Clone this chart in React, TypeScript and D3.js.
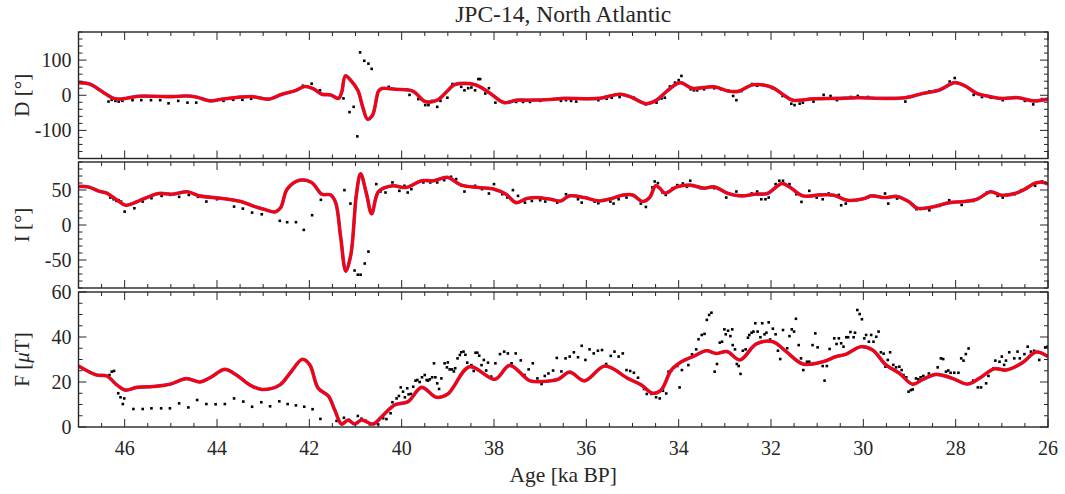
import React from 'react';
import * as d3 from 'd3';

// ---------- data (age in ka BP, value) ----------
const dFit: [number, number][] = [
  [47.0,36],[46.76,32],[46.46,8],[46.24,-9],[46.13,-11],[45.98,-9],[45.72,-3],[45.34,-3],[44.97,-4],[44.67,-2],[44.45,-5],[44.15,-16],[43.93,-12],[43.48,-5],[43.22,-4],[42.89,-11],[42.59,3],[42.29,14],[42.1,25],[41.92,19],[41.73,3],[41.54,1],[41.37,-9],[41.3,8],[41.22,55],[41.1,42],[40.95,14],[40.84,-35],[40.74,-68],[40.63,-56],[40.5,12],[40.43,19],[40.13,17],[39.76,12],[39.49,-18],[39.23,-14],[39.01,12],[38.86,30],[38.41,30],[38.11,8],[37.78,-21],[37.52,-14],[37.22,-14],[36.78,-12],[36.48,-9],[35.74,-9],[35.26,3],[35.0,-7],[34.71,-24],[34.48,-14],[34.26,11],[33.97,36],[33.71,20],[33.23,24],[32.93,12],[32.71,11],[32.38,30],[31.97,22],[31.75,3],[31.53,-14],[31.08,-10],[30.57,-9],[30.12,-7],[29.53,-9],[29.09,-7],[28.72,5],[28.35,15],[28.02,36],[27.8,27],[27.54,5],[27.32,-2],[27.02,-9],[26.65,-7],[26.32,-16],[26.0,-11]
];
const dObs: [number, number][] = [
  [46.35,-18],[46.28,-13],[46.2,-16],[46.13,-18],[46.05,-16],[45.83,-14],[45.64,-14],[45.43,-14],[45.23,-14],[45.05,-23],[44.84,-16],[44.64,-21],[44.45,-21],[43.86,-16],[43.65,-13],[43.45,-13],[43.26,-10],[42.14,27],[41.95,33],[41.77,14],[41.26,-9],[41.13,-48],[41.04,-33],[40.96,-117],[40.9,122],[40.81,98],[40.72,90],[40.65,75],[40.28,24],[39.9,17],[39.83,1],[39.64,-11],[39.49,-28],[39.42,-28],[39.34,-16],[39.23,-33],[39.16,-16],[39.01,-7],[38.9,32],[38.71,24],[38.64,14],[38.56,20],[38.49,22],[38.41,14],[38.34,46],[38.3,46],[38.19,5],[38.11,20],[37.97,-21],[37.67,-19],[37.52,-19],[37.37,-19],[37.22,-19],[37.0,-16],[36.55,-16],[36.44,-14],[36.33,-16],[36.22,-18],[35.74,-14],[35.56,-10],[35.45,-7],[35.28,-5],[34.97,-7],[34.71,-26],[34.6,-21],[34.48,-21],[34.37,-9],[34.3,-7],[34.19,25],[34.08,36],[34.0,43],[33.94,55],[33.74,17],[33.67,14],[33.6,14],[33.45,17],[33.23,20],[33.08,17],[32.93,14],[32.82,-2],[32.75,-14],[32.64,12],[32.41,32],[32.3,27],[31.97,20],[31.75,-2],[31.56,-24],[31.49,-28],[31.38,-24],[31.31,-21],[31.08,-18],[30.86,1],[30.71,-2],[30.57,-14],[30.27,-5],[30.12,-2],[29.9,-5],[29.68,-9],[29.09,-18],[28.57,11],[28.28,20],[28.13,39],[28.02,49],[27.61,1],[27.43,-5],[27.24,-7],[26.98,-14],[26.5,-16],[26.32,-26],[26.13,-11]
];

const iFit: [number, number][] = [
  [47.0,55],[46.8,54.5],[46.54,48],[46.39,45.5],[46.16,35.4],[45.98,28.2],[45.87,29.7],[45.57,37.8],[45.27,45],[44.97,44],[44.64,47.4],[44.38,41.6],[43.93,38.3],[43.48,33.5],[43.18,26.3],[42.96,22],[42.74,18.7],[42.62,24.9],[42.48,51.2],[42.21,64],[41.95,60.8],[41.73,44],[41.54,43],[41.43,32],[41.32,-18],[41.21,-66],[41.1,-42],[40.98,44],[40.89,73],[40.76,44],[40.65,16],[40.5,47.8],[40.2,56],[39.9,53.6],[39.57,63.2],[39.31,63.2],[39.01,68],[38.71,57],[38.34,53.6],[38.0,51.2],[37.74,44],[37.52,32],[37.29,37.8],[37.07,39.2],[36.78,36.8],[36.55,34.4],[36.37,41.6],[36.04,39.2],[35.74,34.4],[35.45,37.8],[35.22,42.6],[35.0,43],[34.78,33.5],[34.63,39.2],[34.5,56],[34.41,52.6],[34.3,45.5],[34.04,54.5],[33.75,57],[33.45,52.6],[33.23,54.5],[32.93,45],[32.64,41.6],[32.34,44],[32.08,45],[31.9,53.6],[31.76,59.3],[31.6,54.5],[31.31,41.6],[30.94,43],[30.64,42.6],[30.35,35.4],[29.98,37.8],[29.83,41.6],[29.53,39.2],[29.27,40.7],[29.02,33.5],[28.83,23.9],[28.5,25.8],[28.13,32],[27.83,33.5],[27.54,36.8],[27.24,47.4],[27.02,42.6],[26.72,45],[26.5,51.2],[26.28,59.8],[26.1,60.8],[26.0,58.4]
];
const iObs: [number, number][] = [
  [46.31,39.2],[46.24,36.8],[46.18,34.4],[46.13,35.4],[46.08,33.5],[46.0,19.1],[45.79,23.9],[45.61,33.5],[45.42,38.3],[45.2,41.6],[45.01,43],[44.82,40.2],[44.61,43],[44.41,40.2],[44.23,33.5],[44.0,36.8],[43.63,26.3],[43.44,23.4],[43.24,17.7],[43.03,15.3],[42.64,6],[42.48,4],[42.29,4],[42.12,-7],[41.94,14],[41.75,36],[41.24,49.8],[41.11,30.6],[41.02,-65],[40.95,-71],[40.89,-71],[40.8,-55],[40.72,-38],[40.55,58.4],[40.46,47.8],[40.35,46.4],[40.2,60.8],[40.05,48.8],[39.94,56],[39.87,46.4],[39.79,51.2],[39.53,60.8],[39.38,60.8],[39.23,60.8],[39.08,64.1],[38.93,68.9],[38.82,65.6],[38.71,57],[38.64,47.8],[38.41,56],[38.26,51.2],[38.11,45],[38.0,58.4],[37.82,44],[37.71,39.2],[37.59,49.8],[37.48,41.6],[37.33,32],[37.18,34.4],[37.0,35.4],[36.89,33.5],[36.63,32],[36.44,44],[36.18,36.8],[36.1,32],[35.82,33.5],[35.74,31.1],[35.48,33.5],[35.41,30.6],[35.3,36.8],[35.13,39.2],[34.97,42.6],[34.82,30.6],[34.71,25.8],[34.57,53.6],[34.52,62.2],[34.45,59.8],[34.35,46.4],[34.28,43],[34.13,52.6],[34.03,57],[33.91,59.3],[33.82,54.5],[33.75,63.2],[33.52,52.6],[33.23,52.6],[32.97,39.2],[32.75,47.8],[32.7,41.6],[32.42,45],[32.3,47.8],[32.21,36.8],[32.12,36.8],[32.05,39.2],[31.9,58.4],[31.82,63.2],[31.74,63.2],[31.6,58.4],[31.45,44],[31.34,33],[31.17,48.8],[31.01,39.2],[30.88,36.8],[30.75,45],[30.53,43],[30.48,28.2],[30.38,30.6],[30.2,35.4],[29.9,39.2],[29.79,41.6],[29.53,45],[29.46,30.6],[29.27,37.8],[28.94,29.7],[28.85,22.5],[28.57,21],[28.35,27.3],[28.14,35.4],[27.87,28.7],[27.61,34.4],[27.32,46.4],[27.09,41.6],[26.98,39.2],[26.72,44],[26.58,49.8],[26.28,56],[26.13,62.2]
];

const fFit: [number, number][] = [
  [47.0,27.1],[46.61,23.1],[46.39,22.7],[46.17,18.7],[45.99,16.4],[45.74,17.6],[45.38,18],[45.02,19],[44.66,21.5],[44.37,20],[44.15,21.9],[43.83,25.6],[43.58,23.1],[43.29,18.7],[43.03,16.7],[42.64,18.7],[42.42,23.9],[42.15,30.1],[41.99,27.6],[41.81,17.3],[41.59,13.8],[41.45,7.6],[41.3,1.3],[41.16,3.1],[41.02,1.3],[40.87,3.1],[40.62,1.3],[40.44,4.4],[40.15,9.8],[39.86,11.3],[39.57,17.6],[39.25,13.2],[39.0,14.7],[38.53,26.8],[37.98,21.2],[37.66,27.4],[37.23,20.6],[36.97,20.2],[36.61,21.2],[36.36,24.4],[36.04,20.5],[35.6,27.1],[35.1,21.6],[34.81,18.7],[34.56,15],[34.38,16.4],[34.16,25.3],[33.94,29],[33.66,31.6],[33.4,33.9],[33.19,32.7],[32.95,33.5],[32.67,29.8],[32.32,36.9],[31.96,37.9],[31.67,33.5],[31.31,28],[30.88,29],[30.59,31.3],[30.37,32.4],[30.05,35.7],[29.8,34.2],[29.51,27.6],[29.22,23.9],[28.93,19],[28.71,21.2],[28.42,23.4],[28.07,21.6],[27.74,19.1],[27.49,21.6],[27.16,25.9],[26.91,25.3],[26.55,28.6],[26.26,33.3],[26.0,31.3]
];
const fObs: [number, number][] = [
  [46.33,23.1],[46.28,24.6],[46.23,24.9],[46.14,15],[46.09,13.2],[46.04,10.2],[46.01,12.7],[45.81,8],[45.61,8],[45.42,8.3],[45.21,8.3],[45.02,8.3],[44.82,10.5],[44.62,8.7],[44.43,12],[44.23,10.2],[44.03,10.1],[43.83,10.2],[43.63,12.7],[43.43,11.3],[43.24,9],[43.04,11],[42.85,9.2],[42.65,11.4],[42.47,10.2],[42.29,9.6],[42.11,9],[41.93,7.9],[41.76,3.6],[41.41,2.7],[41.25,4.1],[41.14,3.1],[40.95,4.9],[40.87,3.7],[40.78,2.8],[40.69,1.2],[40.51,1.2],[40.4,3.9],[40.33,3.5],[40.24,6.1],[40.2,11],[40.11,12.7],[40.06,13.8],[40.02,17.6],[39.97,15.7],[39.93,13.2],[39.88,17.2],[39.85,14.5],[39.8,14.7],[39.75,17.9],[39.7,20.6],[39.66,20.9],[39.61,20],[39.56,22.1],[39.5,23.1],[39.46,20.9],[39.43,20.6],[39.39,21.2],[39.34,22.1],[39.3,28.3],[39.27,22.1],[39.23,19.4],[39.19,16.9],[39.14,21.6],[39.07,28.3],[39.02,26.5],[39.0,28.7],[38.96,25.6],[38.91,25.6],[38.87,24.7],[38.84,26.1],[38.79,30.5],[38.74,32],[38.71,33.2],[38.66,33.5],[38.62,32.1],[38.58,28.6],[38.49,27.5],[38.44,24.9],[38.4,33],[38.36,33],[38.32,31.7],[38.27,27.5],[38.22,29.8],[38.17,25.1],[38.13,28.6],[38.06,22.4],[37.97,28.3],[37.87,32.4],[37.78,33.5],[37.7,32.7],[37.62,28.3],[37.53,32.7],[37.42,29.6],[37.34,23.1],[37.25,25.6],[37.16,28.3],[37.06,21.6],[36.97,19.1],[36.9,22.7],[36.82,23.8],[36.72,25.1],[36.64,30.7],[36.54,24.7],[36.45,30.5],[36.36,31.3],[36.27,33.2],[36.18,31],[36.1,36.1],[36.02,29.8],[35.93,34.5],[35.84,32.7],[35.75,33.9],[35.66,34.2],[35.57,28],[35.47,31.6],[35.39,33.5],[35.3,31.3],[35.21,32.7],[35.13,25.3],[35.05,24.9],[34.97,24.1],[34.88,21.9],[34.82,18.9],[34.75,16.9],[34.69,14.7],[34.59,14.7],[34.49,13.2],[34.41,12.7],[34.34,16.1],[34.27,14.9],[34.22,24.6],[34.16,25.1],[34.1,26.5],[34.03,27.1],[33.98,17.6],[33.93,25.3],[33.84,30.1],[33.79,27.5],[33.71,32.3],[33.62,34.5],[33.57,39],[33.5,40.9],[33.44,41.4],[33.39,47.6],[33.34,49.8],[33.29,50.8],[33.22,24.6],[33.17,28],[33.11,37.5],[33.06,37.9],[33.01,43.4],[32.98,41.2],[32.93,42.8],[32.88,40.4],[32.84,43.4],[32.83,36.4],[32.78,34.5],[32.74,28],[32.7,27.1],[32.66,23.6],[32.61,33.9],[32.55,34.5],[32.5,39.7],[32.47,40.9],[32.42,41.9],[32.38,42.4],[32.34,46.1],[32.29,42.4],[32.23,39.9],[32.19,46.1],[32.14,41.2],[32.1,41.9],[32.05,46.5],[32.02,38.9],[31.96,43.7],[31.9,41.2],[31.85,33.9],[31.8,30.2],[31.74,43.1],[31.65,35],[31.6,40.4],[31.55,43.4],[31.5,42.4],[31.46,48.1],[31.4,36.4],[31.35,30.5],[31.3,25.3],[31.22,29],[31.17,29],[31.1,36.4],[31.04,41.6],[30.99,35.4],[30.88,27.1],[30.84,20.6],[30.79,27.1],[30.73,34.7],[30.63,39.4],[30.58,36.9],[30.53,39.4],[30.48,37.2],[30.43,35.7],[30.37,39.9],[30.33,39.9],[30.28,42.2],[30.21,39.9],[30.18,41.9],[30.13,52],[30.08,50.2],[30.03,47.9],[29.98,39.4],[29.94,40.9],[29.88,37.9],[29.83,40.9],[29.78,37.9],[29.72,40.1],[29.67,42.4],[29.62,33.2],[29.56,32.6],[29.52,26.8],[29.47,29.8],[29.42,33.2],[29.35,27.6],[29.29,26.5],[29.22,26.8],[29.17,25.3],[29.13,23.1],[29.07,22.1],[29.02,15.7],[28.97,16.4],[28.93,16.7],[28.86,21.6],[28.81,21.2],[28.76,22.1],[28.7,22.7],[28.58,23.8],[28.39,26.5],[28.32,30.5],[28.27,30.2],[28.21,24.6],[28.16,25.1],[28.11,24.1],[28.03,24.1],[27.94,24.1],[27.88,30.5],[27.83,29.5],[27.78,32.4],[27.72,34.9],[27.62,20.6],[27.52,17.6],[27.45,17.6],[27.34,19.4],[27.29,22.7],[27.18,26.1],[27.14,29.5],[27.05,29],[27.0,31.3],[26.95,27.6],[26.91,29.5],[26.84,33.2],[26.73,30.5],[26.66,33.5],[26.61,30.5],[26.51,32.4],[26.44,35.7],[26.37,33.5],[26.3,33.9],[26.19,29.8],[26.06,35.4],[26.01,35.7]
];

// ---------- axes definitions ----------
const ageDomain: [number, number] = [47, 26];
const ageMajorTicks = [46, 44, 42, 40, 38, 36, 34, 32, 30, 28, 26];
const ageMinorStep = 0.5;
const dDomain: [number, number] = [-180, 180];
const dMajorTicks = [-100, 0, 100];
const dMinorStep = 20;
const iDomain: [number, number] = [-90, 90];
const iMajorTicks = [-50, 0, 50];
const iMinorStep = 10;
const fDomain: [number, number] = [0, 60];
const fMajorTicks = [0, 20, 40, 60];
const fMinorStep = 5;

const titleText = 'JPC-14, North Atlantic';
const xLabelText = 'Age [ka BP]';

const FONT = "'Liberation Serif', 'Times New Roman', serif";
const AXIS = '#262626';
const LEFT = 78.5;
const RIGHT = 1048;

function range(a: number, b: number, s: number) {
  const out: number[] = [];
  const lo = Math.min(a, b), hi = Math.max(a, b);
  for (let v = Math.ceil(lo / s) * s; v <= hi + 1e-9; v += s) out.push(+v.toFixed(6));
  return out;
}

type PanelProps = {
  id: string;
  top: number;
  bottom: number;
  domain: [number, number];
  majors: number[];
  minorStep: number;
  fit: [number, number][];
  obs: [number, number][];
  label: React.ReactNode;
  x: d3.ScaleLinear<number, number>;
};

const textStyle = (size: number): React.CSSProperties => ({ fontFamily: FONT, fontSize: size, fill: AXIS });

function Panel({ id, top, bottom, domain, majors, minorStep, fit, obs, label, x }: PanelProps) {
  const y = d3.scaleLinear().domain(domain).range([bottom, top]);
  const line = d3.line<[number, number]>()
    .x(d => x(d[0]))
    .y(d => y(d[1]))
    .curve(d3.curveCatmullRom.alpha(0.5));
  const path = line(fit) || '';
  const yMinors = range(domain[0], domain[1], minorStep).filter(v => !majors.includes(v));
  const xMinors = range(ageDomain[1], ageDomain[0], ageMinorStep).filter(v => !ageMajorTicks.includes(v));
  const majL = 8, minL = 4;
  const cy = (top + bottom) / 2;
  return (
    <g>
      <defs>
        <clipPath id={`clip-${id}`}>
          <rect x={LEFT} y={top} width={RIGHT - LEFT} height={bottom - top} />
        </clipPath>
      </defs>
      <g clipPath={`url(#clip-${id})`}>
        {obs.map((d, i) => (
          <rect key={i} x={x(d[0]) - 1.3} y={y(d[1]) - 1.3} width={2.6} height={2.6} fill="#000" />
        ))}
        <path d={path} fill="none" stroke="#7a3cb0" strokeWidth={3.6} strokeLinejoin="round" />
        <path d={path} fill="none" stroke="#ff0000" strokeWidth={2.8} strokeLinejoin="round" />
      </g>
      <g stroke={AXIS} strokeWidth={1}>
        {ageMajorTicks.map(v => (
          <g key={'xm' + v}>
            <line x1={x(v)} x2={x(v)} y1={bottom} y2={bottom - majL} />
            <line x1={x(v)} x2={x(v)} y1={top} y2={top + majL} />
          </g>
        ))}
        {xMinors.map(v => (
          <g key={'xn' + v}>
            <line x1={x(v)} x2={x(v)} y1={bottom} y2={bottom - minL} />
            <line x1={x(v)} x2={x(v)} y1={top} y2={top + minL} />
          </g>
        ))}
        {majors.map(v => (
          <g key={'ym' + v}>
            <line x1={LEFT} x2={LEFT + majL} y1={y(v)} y2={y(v)} />
            <line x1={RIGHT} x2={RIGHT - majL} y1={y(v)} y2={y(v)} />
          </g>
        ))}
        {yMinors.map(v => (
          <g key={'yn' + v}>
            <line x1={LEFT} x2={LEFT + minL} y1={y(v)} y2={y(v)} />
            <line x1={RIGHT} x2={RIGHT - minL} y1={y(v)} y2={y(v)} />
          </g>
        ))}
      </g>
      <rect x={LEFT} y={top} width={RIGHT - LEFT} height={bottom - top} fill="none" stroke={AXIS} strokeWidth={1.4} />
      {majors.map(v => (
        <text key={'yl' + v} x={LEFT - 7} y={y(v)} dy="0.35em" textAnchor="end" style={textStyle(20)}>
          {v}
        </text>
      ))}
      <text transform={`translate(29,${cy}) rotate(-90)`} textAnchor="middle" style={textStyle(21)}>
        {label}
      </text>
    </g>
  );
}

export default function App() {
  const x = d3.scaleLinear().domain(ageDomain).range([LEFT, RIGHT]);
  return (
    <svg width={1065} height={494} style={{ position: 'absolute', left: 0, top: 0, background: '#fff' }}>
      <rect width={1065} height={494} fill="#fff" />
      <text x={(LEFT + RIGHT) / 2} y={22} textAnchor="middle" style={textStyle(23.5)}>{titleText}</text>
      <Panel id="d" top={32} bottom={158.5} domain={dDomain} majors={dMajorTicks} minorStep={dMinorStep} fit={dFit} obs={dObs} x={x}
        label={<>D [°]</>} />
      <Panel id="i" top={162} bottom={288} domain={iDomain} majors={iMajorTicks} minorStep={iMinorStep} fit={iFit} obs={iObs} x={x}
        label={<>I [°]</>} />
      <Panel id="f" top={292} bottom={427} domain={fDomain} majors={fMajorTicks} minorStep={fMinorStep} fit={fFit} obs={fObs} x={x}
        label={<>F [<tspan fontStyle="italic">μ</tspan>T]</>} />
      {ageMajorTicks.map(v => (
        <text key={'xl' + v} x={x(v)} y={455} textAnchor="middle" style={textStyle(20)}>{v}</text>
      ))}
      <text x={(LEFT + RIGHT) / 2} y={482} textAnchor="middle" style={textStyle(21.5)}>{xLabelText}</text>
    </svg>
  );
}
